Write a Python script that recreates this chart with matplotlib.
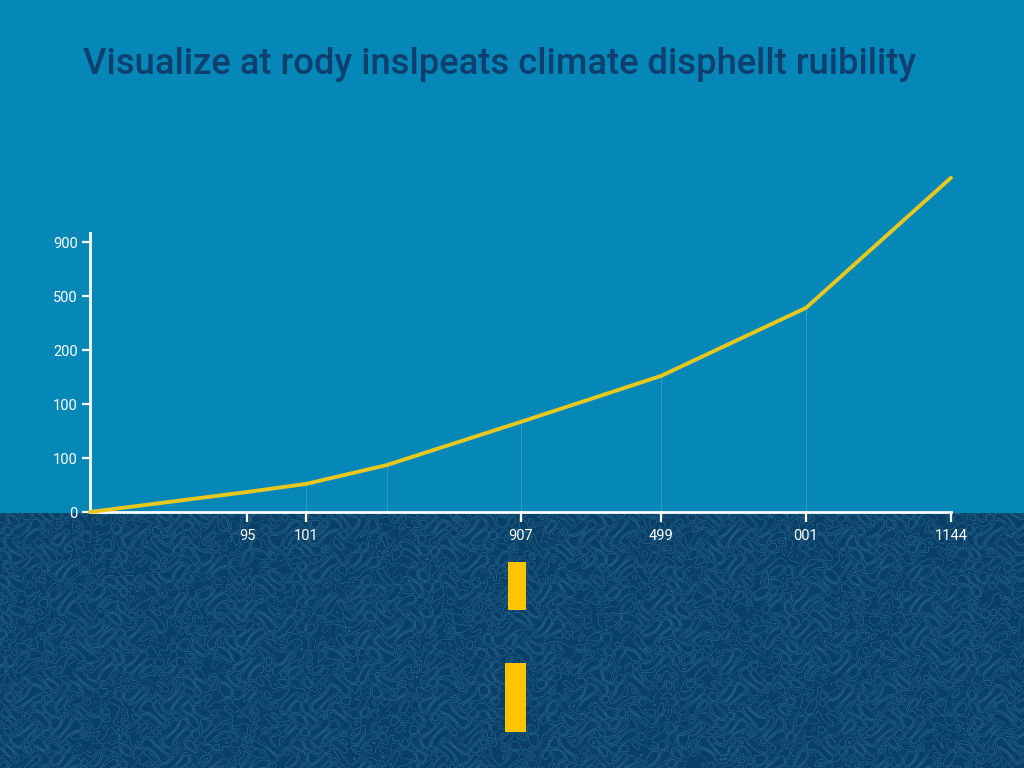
# road_chart.py
import numpy as np
import matplotlib
matplotlib.use("Agg")
import matplotlib.pyplot as plt
from matplotlib.patches import Rectangle

plt.rcParams["font.family"] = ["Roboto", "Liberation Sans", "DejaVu Sans"]

# --- chart data ---
TITLE = "Visualize at rody inslpeats climate disphellt ruibility"
line_x = [0, 157, 216, 297, 431, 571, 716, 861]
line_y = [0, 0.37, 0.52, 0.87, 1.67, 2.52, 3.78, 6.19]
drop_x = [216, 297, 431, 571, 716]
drop_y = [0.52, 0.87, 1.67, 2.52, 3.78]
x_ticks = [157, 216, 431, 571, 716, 861]
x_labels = ["95", "101", "907", "499", "001", "1144"]
y_ticks = [0, 1, 2, 3, 4, 5]
y_labels = ["0", "100", "100", "200", "500", "900"]

# --- colours ---
SKY = "#0587b8"
ROAD = "#0a3f68"
ROAD_LINE = "#3f93b5"
YELLOW = "#fdc500"
LINE_YELLOW = "#e6c81e"
DROP = "#2f9cc6"
TITLE_COL = "#0e3f6e"

fig = plt.figure(figsize=(10.24, 7.68), dpi=100, facecolor=SKY)

# background scene in pixel coords
bg = fig.add_axes([0, 0, 1, 1])
bg.set_xlim(0, 1024)
bg.set_ylim(768, 0)
bg.axis("off")
bg.add_patch(Rectangle((0, 513), 1024, 255, color=ROAD, lw=0))

# road surface texture, a plain wavy contour field
gx, gy = np.meshgrid(np.linspace(0, 1024, 1800), np.linspace(513, 768, 450))
field = (np.sin(gx / 3.4 + np.sin(gy / 5.3) * 2.6)
         + np.sin(gy / 2.9 + np.cos(gx / 5.9) * 2.8)
         + np.sin((gx + gy) / 7.1 + np.sin(gx / 9.7) * 2.1))
bg.contour(gx, gy, field, levels=[-1.1, 0.0, 1.1], colors=ROAD_LINE,
           linewidths=0.45, alpha=0.55)

bg.add_patch(Rectangle((508, 562), 18, 48, color=YELLOW, lw=0, zorder=3))
bg.add_patch(Rectangle((505, 663), 21, 69, color=YELLOW, lw=0, zorder=3))

bg.text(500, 64, TITLE, ha="center", va="center", fontsize=26.2,
        color=TITLE_COL, fontweight="medium")

# chart axes: tick positions are evenly spaced, labels are not
ax = fig.add_axes([90 / 1024, (768 - 512) / 768, 861 / 1024, 279 / 768])
ax.patch.set_alpha(0)
ax.set_xlim(0, 861)
ax.set_ylim(0, 279 / 54)

ax.vlines(drop_x, 0, drop_y, color=DROP, linewidth=0.7, zorder=1)
ax.plot(line_x, line_y, color=LINE_YELLOW, linewidth=2.8, clip_on=False,
        solid_capstyle="round", solid_joinstyle="round", zorder=4)

for side in ("top", "right"):
    ax.spines[side].set_visible(False)
for side in ("left", "bottom"):
    ax.spines[side].set_color("white")
    ax.spines[side].set_linewidth(2.0)

ax.set_xticks(x_ticks, x_labels)
ax.set_yticks(y_ticks, y_labels)
ax.tick_params(axis="x", colors="white", labelsize=10.5, length=7, width=1.6, pad=5)
ax.tick_params(axis="y", colors="white", labelsize=10.5, length=6, width=1.6, pad=3)

fig.savefig("out.png", dpi=100, facecolor=SKY)
